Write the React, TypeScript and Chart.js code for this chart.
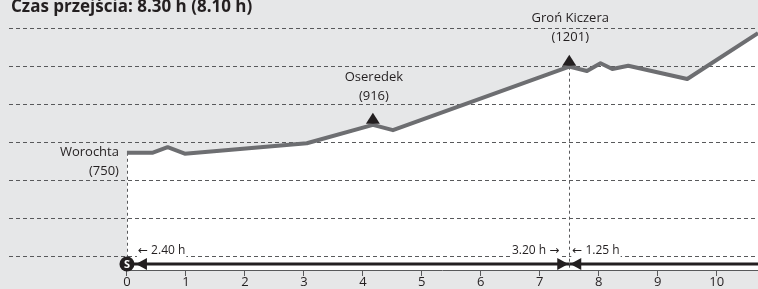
import React, { useEffect, useRef } from 'react';
import { Chart, registerables } from 'chart.js';

Chart.register(...registerables);

// ---- data ----
const profileKm = [0, 0.44, 0.69, 0.98, 3.05, 4.17, 4.51, 7.5, 7.8, 8.03, 8.23, 8.5, 9.5, 10.7];
const profileElev = [745, 745, 774, 740, 795, 892, 864, 1198, 1175, 1216, 1186, 1203, 1133, 1375];

const gridElev = [200, 400, 600, 800, 1000, 1200, 1400];
const xTickValues = [0, 1, 2, 3, 4, 5, 6, 7, 8, 9, 10];

const placeNames = ['Worochta', 'Oseredek', 'Groń Kiczera'];
const placeElev = [750, 916, 1201];
const placeKm = [0, 4.17, 7.5];
const placeKind = ['start', 'peak', 'peak'];

const segFrom = [0, 7.5];
const segTo = [7.5, 10.7];
const segBack = ['← 2.40 h', '← 1.25 h'];
const segFwd = ['3.20 h →', ''];

const titleText = 'Czas przejścia: 8.30 h (8.10 h)';
const startBadge = 'S';

const X_MIN = -2;
const X_MAX = 10.7;
const Y_MIN = 122.5;
const Y_MAX = 1549;

const BG = '#e6e7e8';
const INK = '#231f20';
const GRID = '#58595b';
const PROFILE = '#6d6e71';
const FONT = '"Open Sans", "Noto Sans", sans-serif';
const ARROW_FONT = '"DejaVu Sans", sans-serif';

function elevAt(km: number): number {
  const i = profileKm.indexOf(km);
  return i >= 0 ? profileElev[i] : profileElev[0];
}

// draws text where arrow glyphs use a font with wider arrows; returns width
function drawMixed(ctx: any, text: string, x: number, y: number, align: 'left' | 'right') {
  const parts = text.split(/([←→])/).filter((p) => p.length > 0);
  const fontFor = (p: string) => (p === '←' || p === '→' ? `12px ${ARROW_FONT}` : `12px ${FONT}`);
  let total = 0;
  const widths = parts.map((p) => {
    ctx.font = fontFor(p);
    const w = ctx.measureText(p).width;
    total += w;
    return w;
  });
  let cx = align === 'left' ? x : x - total;
  ctx.fillStyle = '#ffffff';
  ctx.fillRect(cx - 1, y - 7, total + 2, 14);
  ctx.fillStyle = INK;
  ctx.textAlign = 'left';
  ctx.textBaseline = 'middle';
  parts.forEach((p, i) => {
    ctx.font = fontFor(p);
    ctx.fillText(p, cx, y);
    cx += widths[i];
  });
  return total;
}

export default function App() {
  const ref = useRef<HTMLCanvasElement>(null);

  useEffect(() => {
    document.body.style.margin = '0';
    const canvas = ref.current;
    if (!canvas) return;

    const decor = {
      id: 'decor',
      beforeDraw(chart: any) {
        const c = chart.ctx;
        c.save();
        c.fillStyle = BG;
        c.fillRect(0, 0, chart.width, chart.height);
        c.restore();
      },
      afterDatasetDraw(chart: any, args: any) {
        if (args.index !== 1) return;
        const { ctx, chartArea: a, scales } = chart;
        const x = scales.x;
        const y = scales.y;
        ctx.save();
        ctx.strokeStyle = GRID;
        ctx.lineWidth = 1;
        ctx.setLineDash([4, 3]);
        gridElev.forEach((v) => {
          const py = Math.round(y.getPixelForValue(v)) + 0.5;
          ctx.beginPath();
          ctx.moveTo(a.left, py);
          ctx.lineTo(a.right, py);
          ctx.stroke();
        });
        ctx.setLineDash([3, 3]);
        segFrom.forEach((km) => {
          const px = Math.round(x.getPixelForValue(km)) + 0.5;
          const top = y.getPixelForValue(elevAt(km));
          ctx.beginPath();
          ctx.moveTo(px, top);
          ctx.lineTo(px, a.bottom);
          ctx.stroke();
        });
        ctx.setLineDash([]);
        const by = Math.round(a.bottom) - 0.5;
        ctx.beginPath();
        ctx.moveTo(x.getPixelForValue(0), by);
        ctx.lineTo(a.right, by);
        ctx.stroke();
        ctx.restore();
      },
      afterDatasetsDraw(chart: any) {
        const { ctx, chartArea: a, scales } = chart;
        const x = scales.x;
        const y = scales.y;
        ctx.save();

        placeNames.forEach((name, i) => {
          const px = x.getPixelForValue(placeKm[i]);
          const py = y.getPixelForValue(elevAt(placeKm[i]));
          ctx.fillStyle = INK;
          ctx.font = `13px ${FONT}`;
          ctx.textBaseline = 'middle';
          if (placeKind[i] === 'start') {
            ctx.textAlign = 'right';
            ctx.fillText(name, px - 8, py);
            ctx.fillText(`(${placeElev[i]})`, px - 8, py + 19);
          } else {
            const base = py - 1;
            const tip = base - 11;
            ctx.beginPath();
            ctx.moveTo(px, tip);
            ctx.lineTo(px + 7, base);
            ctx.lineTo(px - 7, base);
            ctx.closePath();
            ctx.fill();
            ctx.textAlign = 'center';
            ctx.fillText(`(${placeElev[i]})`, px + 1, tip - 17);
            ctx.fillText(name, px + 1, tip - 36);
          }
        });

        const rowY = a.bottom - 7;
        segFrom.forEach((from, i) => {
          const p0 = x.getPixelForValue(from);
          const p1 = Math.min(x.getPixelForValue(segTo[i]), a.right);
          ctx.strokeStyle = INK;
          ctx.fillStyle = INK;
          ctx.lineWidth = 3;
          ctx.beginPath();
          ctx.moveTo(p0, rowY);
          ctx.lineTo(p1, rowY);
          ctx.stroke();
          const lt = p0 + (i === 0 ? 9 : 1);
          ctx.beginPath();
          ctx.moveTo(lt, rowY);
          ctx.lineTo(lt + 11, rowY - 6);
          ctx.lineTo(lt + 11, rowY + 6);
          ctx.closePath();
          ctx.fill();
          if (segTo[i] < X_MAX) {
            const rt = p1 - 1;
            ctx.beginPath();
            ctx.moveTo(rt, rowY);
            ctx.lineTo(rt - 11, rowY - 6);
            ctx.lineTo(rt - 11, rowY + 6);
            ctx.closePath();
            ctx.fill();
          }
          const ty = rowY - 13;
          if (segBack[i]) drawMixed(ctx, segBack[i], p0 + (i === 0 ? 11 : 3), ty, 'left');
          if (segFwd[i]) drawMixed(ctx, segFwd[i], p1 - 10, ty, 'right');
        });

        const sx = x.getPixelForValue(segFrom[0]);
        ctx.fillStyle = INK;
        ctx.beginPath();
        ctx.arc(sx, rowY, 7.5, 0, Math.PI * 2);
        ctx.fill();
        ctx.fillStyle = '#ffffff';
        ctx.font = `bold 11px ${FONT}`;
        ctx.textAlign = 'center';
        ctx.textBaseline = 'middle';
        ctx.fillText(startBadge, sx, rowY + 0.5);

        ctx.fillStyle = INK;
        ctx.font = `bold 17px ${FONT}`;
        ctx.textAlign = 'left';
        ctx.textBaseline = 'alphabetic';
        ctx.fillText(titleText, 11, 12);

        ctx.restore();
      },
    };

    const points = profileKm.map((k, i) => ({ x: k, y: profileElev[i] }));

    const chart = new Chart(canvas, {
      type: 'line',
      data: {
        datasets: [
          {
            data: points,
            borderColor: PROFILE,
            borderWidth: 4,
            pointRadius: 0,
            fill: false,
            tension: 0,
            borderJoinStyle: 'round',
            borderCapStyle: 'butt',
          },
          {
            data: points,
            borderWidth: 0,
            borderColor: 'rgba(0,0,0,0)',
            backgroundColor: '#ffffff',
            fill: 'start',
            pointRadius: 0,
            tension: 0,
          },
        ],
      },
      options: {
        animation: false,
        responsive: false,
        maintainAspectRatio: false,
        layout: { padding: { left: 9, right: 0, top: 0, bottom: 0 } },
        plugins: {
          legend: { display: false },
          tooltip: { enabled: false },
          title: { display: false },
        },
        scales: {
          x: {
            type: 'linear',
            min: X_MIN,
            max: X_MAX,
            afterBuildTicks: (s: any) => {
              s.ticks = xTickValues.map((v) => ({ value: v }));
            },
            grid: { drawOnChartArea: false, drawTicks: true, tickLength: 5, color: GRID },
            border: { display: false },
            ticks: {
              color: INK,
              font: { family: FONT, size: 13, lineHeight: 1.0 },
              padding: 0,
              maxRotation: 0,
              autoSkip: false,
            },
          },
          y: { display: false, min: Y_MIN, max: Y_MAX },
        },
      },
      plugins: [decor],
    } as any);

    return () => chart.destroy();
  }, []);

  return (
    <canvas
      ref={ref}
      width={758}
      height={289}
      style={{ display: 'block', width: 758, height: 289 }}
    />
  );
}
